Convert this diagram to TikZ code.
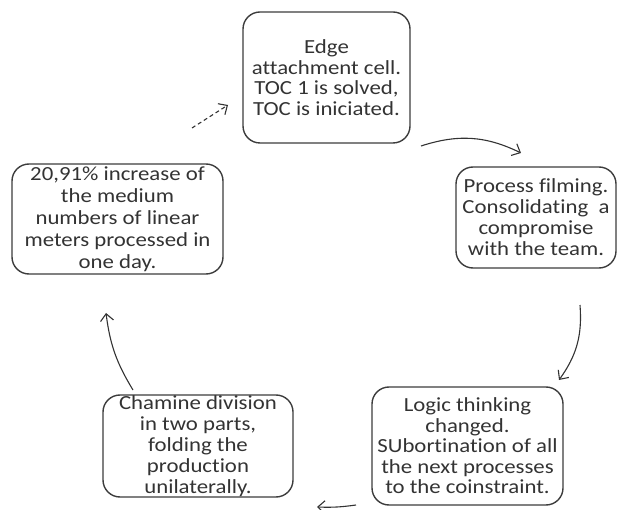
\documentclass[tikz,border=0pt]{standalone}
\usepackage{fontspec}
\setmainfont[Ligatures=NoCommon, RawFeature=-liga, FakeStretch=1.14]{Carlito}
\usetikzlibrary{arrows.meta}
\definecolor{ink}{HTML}{333333}
\definecolor{edge}{HTML}{3C3C3C}
\tikzset{
  stagebox/.style={draw=edge, line width=1.4pt, rounded corners=17pt, inner sep=0pt,
    align=center, text=ink, font=\fontsize{20}{20.5}\selectfont},
  flow/.style={draw=ink, line width=1.1pt, -{Straight Barb[length=7pt,width=13pt,line width=1.1pt]}},
}
\begin{document}
\begin{tikzpicture}[x=1pt,y=1pt]
\useasboundingbox (0,0) rectangle (618,509);
\node[stagebox, minimum width=167pt, minimum height=131pt] (edgecell) at (326.5,431.5)
  {Edge\\attachment cell.\\TOC 1 is solved,\\TOC is iniciated.};
\node[stagebox, minimum width=160pt, minimum height=101pt, font=\fontsize{20}{21}\selectfont] (film) at (536,291.5)
  {Process filming.\\Consolidating\ \ a\\compromise\\with the team.};
\node[stagebox, minimum width=191pt, minimum height=118pt] (logic) at (467.5,63)
  {Logic thinking\\changed.\\SUbortination of all\\the next processes\\to the coinstraint.};
\node[stagebox, minimum width=190pt, minimum height=102pt, font=\fontsize{20}{21}\selectfont] (chamine) at (198,63)
  {Chamine division\\in two parts,\\folding the\\production\\unilaterally.};
\node[stagebox, minimum width=211pt, minimum height=110pt, font=\fontsize{20}{22}\selectfont] (increase) at (117.5,290)
  {20,91\% increase of\\the medium\\numbers of linear\\meters processed in\\one day.};
\coordinate (a1s) at (421,363);
\coordinate (a1e) at (521,356);
\coordinate (a2s) at (580,204);
\coordinate (a2e) at (559,129);
\coordinate (a3s) at (356,4);
\coordinate (a3e) at (317,2);
\coordinate (a4s) at (133,119);
\coordinate (a4e) at (106,196);
\coordinate (a5s) at (192,381);
\coordinate (a5e) at (228,404);
\draw[flow] (a1s) to[bend left=22] (a1e);
\draw[flow] (a2s) to[bend left=20] (a2e);
\draw[flow] (a3s) to[bend left=5] (a3e);
\draw[flow] (a4s) to[bend left=12] (a4e);
\draw[flow, dashed, dash pattern=on 4pt off 3pt] (a5s) -- (a5e);
\end{tikzpicture}
\end{document}
